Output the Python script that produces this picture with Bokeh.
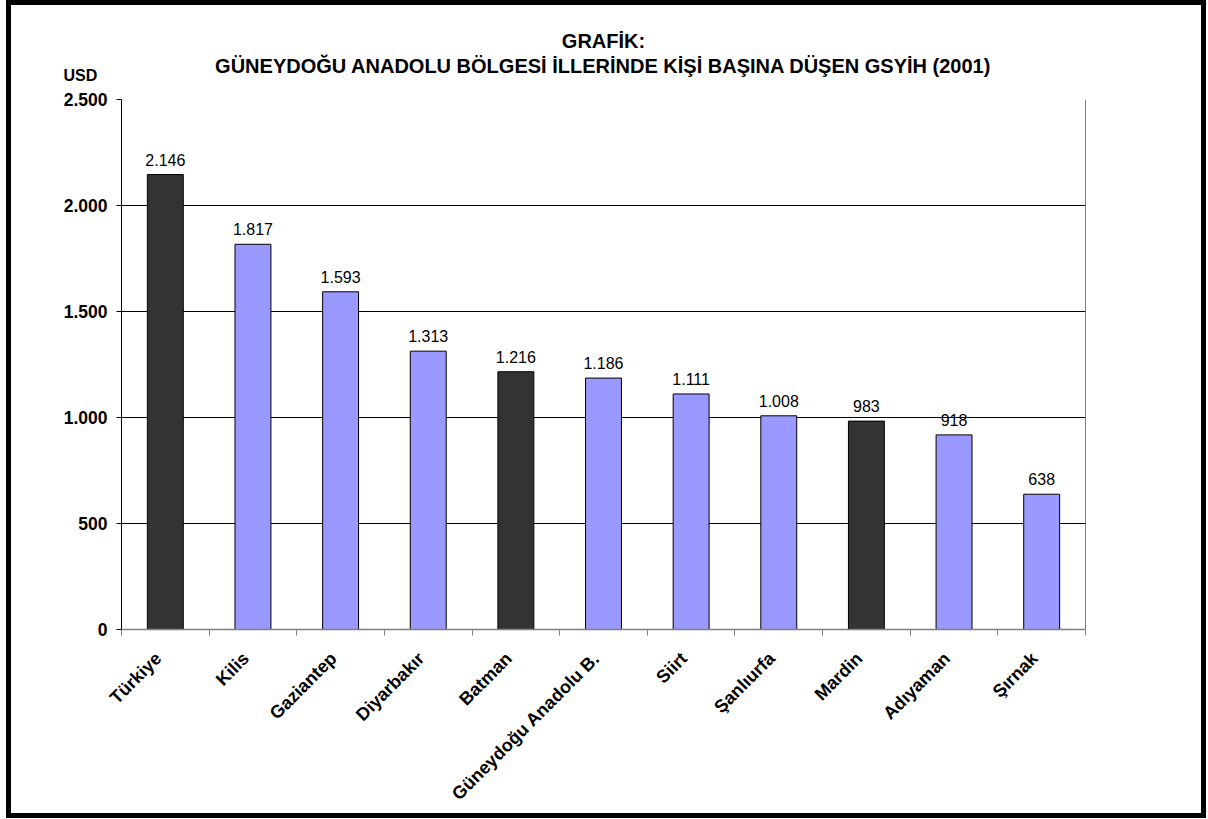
import math
from bokeh.plotting import figure
from bokeh.models import ColumnDataSource, LabelSet, Label, FixedTicker, Span
from bokeh.core.properties import value
from bokeh.embed import file_html
from bokeh.resources import INLINE

categories = ["Türkiye", "Kilis", "Gaziantep", "Diyarbakır", "Batman",
              "Güneydoğu Anadolu B.", "Siirt", "Şanlıurfa", "Mardin",
              "Adıyaman", "Şırnak"]
values = [2146, 1817, 1593, 1313, 1216, 1186, 1111, 1008, 983, 918, 638]
bar_colors = ["#333333", "#9999FF", "#9999FF", "#9999FF", "#333333",
              "#9999FF", "#9999FF", "#9999FF", "#333333", "#9999FF", "#9999FF"]
y_ticks = [0, 500, 1000, 1500, 2000, 2500]
y_tick_labels = ["0", "500", "1.000", "1.500", "2.000", "2.500"]
title_lines = ["GRAFİK:",
               "GÜNEYDOĞU ANADOLU BÖLGESİ İLLERİNDE KİŞİ BAŞINA DÜŞEN GSYİH (2001)"]
y_unit = "USD"

FONT = "Liberation Sans"
LABEL_SHIFT = 0.08


def fmt(v):
    return f"{v:,}".replace(",", ".")


n = len(categories)
xs = list(range(n))
label_pos = [x - LABEL_SHIFT for x in xs]
source = ColumnDataSource(dict(x=xs, top=values, color=bar_colors,
                               label=[fmt(v) for v in values]))

p = figure(width=1200, height=818, x_range=(-0.5, n - 0.5), y_range=(0, y_ticks[-1]),
           output_backend="svg", toolbar_location=None, title=None,
           min_border_left=110, min_border_right=126,
           min_border_top=94, min_border_bottom=194)
p.styles = {"border": "5px solid black", "margin-left": "6px"}
p.background_fill_color = "white"
p.border_fill_color = "white"
p.outline_line_color = None

p.vbar(x="x", top="top", width=0.41, bottom=0, source=source,
       fill_color="color", line_color="black", line_width=1)

# x axis
xa = p.xaxis[0]
xa.ticker = FixedTicker(ticks=label_pos, minor_ticks=[i - 0.5 for i in range(n + 1)])
xa.major_label_overrides = {x: c for x, c in zip(label_pos, categories)}
xa.major_label_orientation = math.pi / 4
xa.major_tick_out = 0
xa.major_tick_in = 0
xa.minor_tick_out = 6
xa.minor_tick_in = 0
xa.minor_tick_line_color = "#808080"
xa.axis_line_color = "#808080"
xa.axis_line_width = 1.5
xa.major_label_text_font = FONT
xa.major_label_text_font_style = "bold"
xa.major_label_text_font_size = "18px"
xa.major_label_text_color = "black"
xa.major_label_standoff = 20
p.xgrid.grid_line_color = None

# y axis
ya = p.yaxis[0]
ya.ticker = FixedTicker(ticks=y_ticks, minor_ticks=[])
ya.major_label_overrides = dict(zip(y_ticks, y_tick_labels))
ya.major_tick_out = 5
ya.major_tick_in = 0
ya.major_tick_line_color = "black"
ya.axis_line_color = "black"
ya.major_label_text_font = FONT
ya.major_label_text_font_style = "bold"
ya.major_label_text_font_size = "17.5px"
ya.major_label_text_color = "black"
ya.major_label_standoff = 9
p.ygrid.ticker = FixedTicker(ticks=y_ticks)
p.ygrid.grid_line_color = "black"
p.ygrid.grid_line_width = 1

p.add_layout(Span(location=n - 0.5, dimension="height", line_color="black", line_width=1))

labels = LabelSet(x="x", y="top", text="label", source=source,
                  text_align="center", text_baseline="bottom", y_offset=9,
                  text_font=value(FONT), text_font_size="16px", text_color="black")
p.add_layout(labels)

# title lines and unit label, placed in the canvas margin above the frame
p.add_layout(Label(x=587, y=30, x_units="canvas", y_units="canvas", text=title_lines[0],
                   text_align="center", text_baseline="middle", text_font=FONT,
                   text_font_style="bold", text_font_size="20px", text_color="black"),
             "above")
p.add_layout(Label(x=587, y=55, x_units="canvas", y_units="canvas", text=title_lines[1],
                   text_align="center", text_baseline="middle", text_font=FONT,
                   text_font_style="bold", text_font_size="20px", text_color="black"),
             "above")
p.add_layout(Label(x=47, y=65, x_units="canvas", y_units="canvas", text=y_unit,
                   text_align="left", text_baseline="middle", text_font=FONT,
                   text_font_style="bold", text_font_size="16px", text_color="black"),
             "left")

open("out.html", "w").write(file_html(p, INLINE))
